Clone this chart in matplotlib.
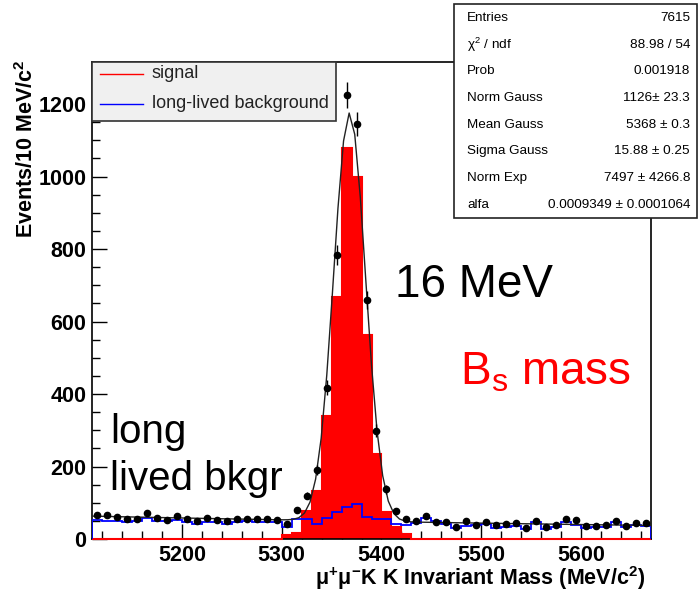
import numpy as np
import matplotlib
matplotlib.use("Agg")
import matplotlib.pyplot as plt
from matplotlib.ticker import MultipleLocator
from matplotlib.patches import Rectangle
from matplotlib.lines import Line2D

plt.rcParams['font.family'] = ['Liberation Sans', 'DejaVu Sans']
plt.rcParams['mathtext.default'] = 'regular'

# 10 MeV bins from 5110 to 5670
bin_edges = np.arange(5110, 5671, 10)

# data points (events per bin)
data_counts = [66, 66, 62, 54, 56, 72, 58, 52, 64, 56, 50, 58, 53, 50, 54, 56, 54, 55, 52,
               42, 80, 120, 190, 417, 783, 1225, 1145, 659, 299, 137, 78, 54, 50, 64,
               47, 47, 34, 51, 40, 47, 39, 42, 44, 30, 51, 32, 40, 55, 52, 36, 37, 38, 50, 37, 45, 44]

# signal (red filled histogram)
signal_counts = [0] * 19 + [11, 16, 76, 132, 339, 668, 1080, 1000, 563, 235, 74, 33, 13, 0, 0] + [0] * 22

# long-lived background (blue histogram)
longlived_counts = [53, 51, 51, 48, 50, 58, 51, 49, 52, 46, 42, 46, 46, 42, 46, 49, 48, 48, 46,
                    34, 54, 54, 41, 58, 74, 89, 97, 62, 55, 55, 42, 38, 43, 57,
                    50, 42, 30, 37, 38, 42, 30, 34, 37, 28, 48, 28, 32, 48, 38, 30, 32, 34, 46, 32, 38, 37]

# fit result (gauss + exponential), as in the stats box
norm_gauss = 1126
mean_gauss = 5368
sigma_gauss = 15.88
norm_exp = 7497
alfa = 0.0009349

stat_labels = ["Entries", "χ$^{2}$ / ndf", "Prob", "Norm Gauss", "Mean Gauss",
               "Sigma Gauss", "Norm Exp", "alfa"]
stat_values = ["7615", "88.98 / 54", "0.001918", "1126± 23.3", "5368 ± 0.3",
               "15.88 ± 0.25", "7497 ± 4266.8", "0.0009349 ± 0.0001064"]

W, H = 698, 594
fig = plt.figure(figsize=(W / 100, H / 100), dpi=100)
ax = fig.add_axes([92 / W, 1 - 539 / H, 559 / W, 477 / H])

centers = (bin_edges[:-1] + bin_edges[1:]) / 2
data_counts = np.array(data_counts)

ax.stairs(signal_counts, bin_edges, fill=True, color='red', zorder=2)
ax.stairs(signal_counts, bin_edges, color='red', lw=1.5, zorder=3, clip_on=False)
ax.stairs(longlived_counts, bin_edges, color='blue', lw=1.3, zorder=4)

m = np.linspace(bin_edges[0], bin_edges[-1], 101)
fit = norm_gauss * np.exp(-0.5 * ((m - mean_gauss) / sigma_gauss) ** 2) + norm_exp * np.exp(-alfa * m)
ax.plot(m, fit, color='#222222', lw=1.0, zorder=5)

ax.errorbar(centers, data_counts, yerr=np.sqrt(data_counts), xerr=2.5, fmt='o', ms=4.5,
            color='black', elinewidth=1, capsize=0, zorder=6)

ax.set_xlim(5110, 5670)
ax.set_ylim(0, 1316)
ax.set_xticks([5200, 5300, 5400, 5500, 5600])
ax.xaxis.set_minor_locator(MultipleLocator(20))
ax.yaxis.set_major_locator(MultipleLocator(200))
ax.yaxis.set_minor_locator(MultipleLocator(50))
ax.tick_params(which='both', direction='in', width=1, top=False, right=False)
ax.tick_params(which='major', length=11, labelsize=15.5, pad=4)
ax.tick_params(which='minor', length=5.5)
for lab in ax.get_xticklabels() + ax.get_yticklabels():
    lab.set_fontweight('bold')
for s in ax.spines.values():
    s.set_linewidth(1.2)

fig.text(645 / W, 1 - 578 / H, "μ$^{+}$μ$^{-}$K K Invariant Mass (MeV/c$^{2}$)",
         ha='right', va='center', fontsize=15.5, fontweight='bold')
fig.text(27 / W, 1 - 60 / H, "Events/10 MeV/c$^{2}$", rotation=90, ha='center', va='top',
         fontsize=15.5, fontweight='bold')

# annotations
ax.text(0.542, 0.507, "16 MeV", fontsize=33, transform=ax.transAxes, va='baseline', zorder=7)
ax.text(0.658, 0.323, "B$_{s}$ mass", fontsize=33, color='red', transform=ax.transAxes,
        va='baseline', zorder=7)
ax.text(0.032, 0.201, "long", fontsize=29, transform=ax.transAxes, va='baseline', zorder=7)
ax.text(0.032, 0.103, "lived bkgr", fontsize=29, transform=ax.transAxes, va='baseline', zorder=7)

# legend box
lw_ax, lh_ax = 244 / 559, 59 / 477
ax.add_patch(Rectangle((0, 1 - lh_ax), lw_ax, lh_ax, transform=ax.transAxes, facecolor='#f0f0f0',
                       edgecolor='#333333', lw=1.2, zorder=8, clip_on=False))
for i, (name, col) in enumerate([("signal", 'red'), ("long-lived background", 'blue')]):
    yy = 1 - (12 + 30 * i) / 477
    ax.add_line(Line2D([8 / 559, 51 / 559], [yy, yy], transform=ax.transAxes, color=col, lw=1,
                       zorder=9))
    ax.text(60 / 559, yy, name, transform=ax.transAxes, fontsize=13, va='center', zorder=9,
            color='#222222')

# stats box
fig.patches.append(Rectangle((454 / W, 1 - 218 / H), 243 / W, 214 / H, transform=fig.transFigure,
                             facecolor='white', edgecolor='#222222', lw=1.2, zorder=10))
for i, (lab, val) in enumerate(zip(stat_labels, stat_values)):
    yy = 1 - (18 + 26.7 * i) / H
    fig.text(467 / W, yy, lab, fontsize=9.7, va='center', zorder=11)
    fig.text(690 / W, yy, val, fontsize=9.7, va='center', ha='right', zorder=11)

fig.savefig("out.png", dpi=100)
